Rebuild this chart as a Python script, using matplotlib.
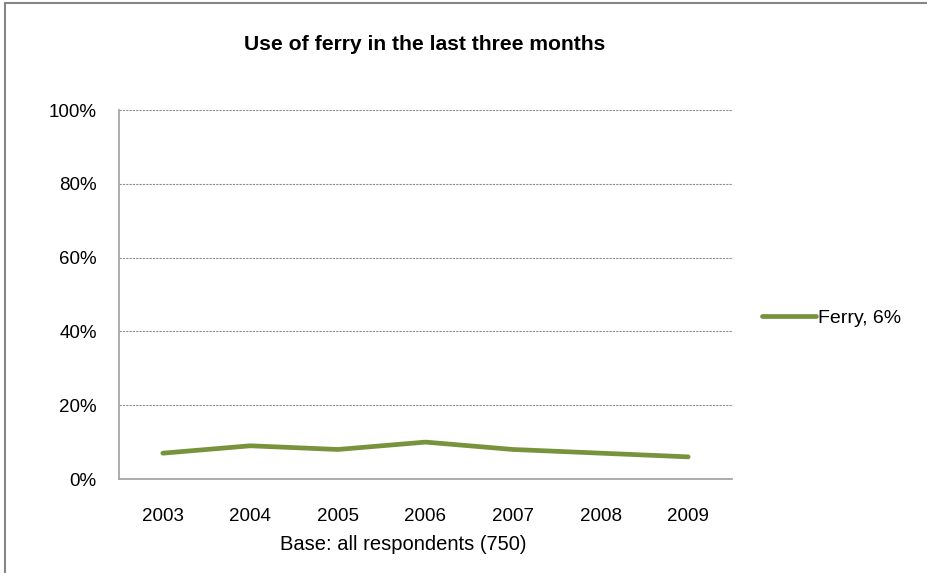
import matplotlib.pyplot as plt
from matplotlib.lines import Line2D

plt.rcParams['font.family'] = ['Liberation Sans', 'DejaVu Sans']

years = ['2003', '2004', '2005', '2006', '2007', '2008', '2009']
ferry = [7, 9, 8, 10, 8, 7, 6]
y_ticks = [0, 20, 40, 60, 80, 100]

fig = plt.figure(figsize=(9.28, 5.73), dpi=100)
ax = fig.add_axes([119 / 928, 1 - 479 / 573, (732 - 119) / 928, (479 - 110) / 573])

x = range(len(years))
ax.plot(x, ferry, color='#77933C', lw=3.4, solid_capstyle='round',
        label='Ferry, 6%')

ax.set_xlim(-0.5, len(years) - 0.5)
ax.set_ylim(0, 100)
ax.set_xticks(list(x))
ax.set_xticklabels(years, fontsize=13.5)
ax.set_yticks(y_ticks)
ax.set_yticklabels([f'{v}%' for v in y_ticks], fontsize=13.5)
ax.tick_params(length=0)
ax.tick_params(axis='x', pad=21)
ax.tick_params(axis='y', pad=16)

for v in y_ticks[1:]:
    ax.axhline(v, color='#8C8C8C', lw=0.8, ls=(0, (2, 1)), zorder=0)

for s in ['top', 'right']:
    ax.spines[s].set_visible(False)
for s in ['left', 'bottom']:
    ax.spines[s].set_color('#A6A6A6')
    ax.spines[s].set_linewidth(1.3)

fig.text(403 / 928, 1 - 545 / 573, 'Base: all respondents (750)',
         fontsize=14.5, ha='center', va='center')
fig.text(425 / 928, 1 - 45 / 573, 'Use of ferry in the last three months',
         fontsize=15.2, fontweight='bold', ha='center', va='center')

ax.legend(loc='center left', bbox_to_anchor=(762 / 928, 1 - 318 / 573),
          bbox_transform=fig.transFigure, frameon=False, fontsize=14,
          borderpad=0, borderaxespad=0, handlelength=2.8, handletextpad=0.1)

# chart frame
fig.add_artist(Line2D([5 / 928, 5 / 928], [0, 1 - 3 / 573], color='#868686', lw=1.5))
fig.add_artist(Line2D([5 / 928, 1], [1 - 3 / 573, 1 - 3 / 573], color='#868686', lw=1.5))

fig.savefig('out.png', dpi=100)
